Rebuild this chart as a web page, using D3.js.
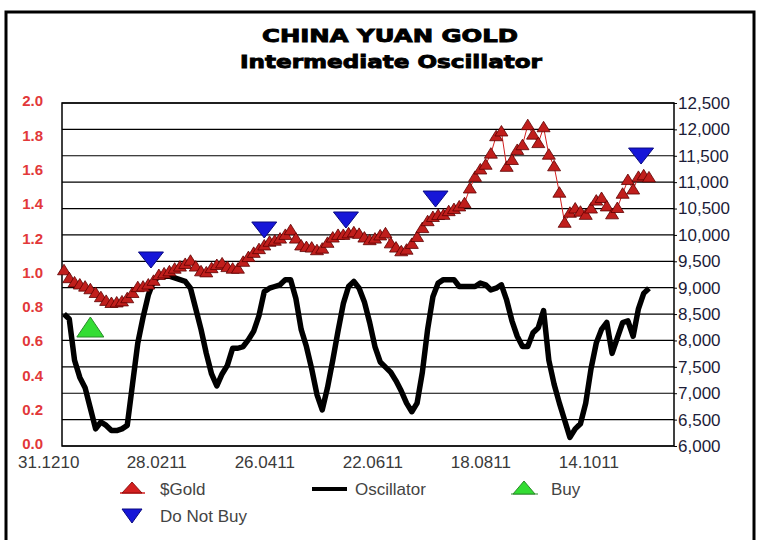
<!DOCTYPE html>
<html>
<head>
<meta charset="utf-8">
<script src="https://cdn.jsdelivr.net/npm/d3@7"></script>
<style>
  html, body { margin: 0; padding: 0; background: #fff; }
  svg { display: block; }
</style>
</head>
<body>
<div id="chart"></div>
<script>
// tick labels of the category axis (trading-day index -> label)
const xTickLabels = ["31.1210", "28.0211", "26.0411", "22.0611", "18.0811", "14.1011"];
const xTickDays = [-6, 35, 76, 117, 158, 199];

// $Gold in yuan, one value every 2 trading days
const gold = [
  9330, 9180, 9100, 9060, 9020, 8970, 8900, 8820, 8750, 8710,
  8720, 8740, 8800, 8900, 9010, 9020, 9060, 9130, 9240, 9270,
  9310, 9360, 9400, 9450, 9510, 9400, 9310, 9290, 9370, 9430,
  9460, 9390, 9360, 9360, 9490, 9580, 9660, 9730, 9800, 9870,
  9890, 9930, 10000, 10090, 9930, 9800, 9770, 9760, 9710, 9740,
  9850, 9950, 10000, 10000, 10030, 10050, 10020, 9950, 9900, 9930,
  9990, 10030, 9840, 9760, 9690, 9720, 9830, 9960, 10130, 10260,
  10340, 10377, 10380, 10450, 10490, 10540, 10600, 10880, 11100, 11240,
  11330, 11540, 11870, 11960, 11290, 11420, 11610, 11700, 12080, 11900,
  11740, 12040, 11520, 11300, 10800, 10230, 10420, 10500, 10440, 10380,
  10500, 10650, 10700, 10540, 10390, 10510, 10780, 11040, 10860, 11100,
  11130, 11090
];

// intermediate oscillator, same days
const oscillator = [
  0.77, 0.74, 0.50, 0.40, 0.34, 0.22, 0.10, 0.14, 0.12, 0.09,
  0.09, 0.10, 0.12, 0.36, 0.60, 0.75, 0.88, 0.96, 0.99, 0.99,
  0.99, 0.98, 0.97, 0.96, 0.92, 0.80, 0.68, 0.54, 0.42, 0.35,
  0.42, 0.47, 0.57, 0.57, 0.58, 0.62, 0.67, 0.76, 0.90, 0.92,
  0.93, 0.94, 0.97, 0.97, 0.86, 0.68, 0.58, 0.45, 0.30, 0.21,
  0.34, 0.50, 0.67, 0.83, 0.93, 0.96, 0.92, 0.84, 0.72, 0.58,
  0.49, 0.46, 0.43, 0.38, 0.32, 0.25, 0.20, 0.25, 0.43, 0.68,
  0.87, 0.95, 0.97, 0.97, 0.97, 0.93, 0.93, 0.93, 0.93, 0.95,
  0.94, 0.91, 0.92, 0.94, 0.85, 0.73, 0.64, 0.58, 0.58, 0.66,
  0.69, 0.79, 0.50, 0.36, 0.25, 0.15, 0.05, 0.10, 0.13, 0.25,
  0.45, 0.60, 0.68, 0.72, 0.54, 0.63, 0.72, 0.73, 0.64, 0.80,
  0.89, 0.92
];

// signals (trading-day index, yuan level)
const buyDays = [10];
const buyValues = [8255];
const noBuyDays = [33, 76, 107, 141, 219];
const noBuyValues = [9525, 10093, 10283, 10680, 11495];

const goldTicks = d3.range(6000, 12501, 500);
const oscTicks = d3.range(0, 11).map(d => d / 5);

const width = 759, height = 540;
const plot = { left: 62, right: 674, top: 103, bottom: 446 };

const svg = d3.select("#chart").append("svg")
  .attr("width", width)
  .attr("height", height);

svg.append("rect")
  .attr("width", width).attr("height", height)
  .attr("fill", "#fff");

// outer frame
svg.append("path")
  .attr("d", `M6,${height + 5}V12H754V${height + 5}`)
  .attr("fill", "none")
  .attr("stroke", "#000")
  .attr("stroke-width", 3);

const x = d3.scaleLinear().domain([-0.76, 231.5]).range([plot.left, plot.right]);
const yGold = d3.scaleLinear().domain([6000, 12500]).range([plot.bottom, plot.top]);
const yOsc = d3.scaleLinear().domain([0, 2]).range([plot.bottom, plot.top]);

const days = gold.map((d, i) => i * 2);

// titles (heavy face)
const titleStyle = t => t
  .attr("text-anchor", "middle")
  .attr("lengthAdjust", "spacingAndGlyphs")
  .attr("fill", "#000")
  .attr("stroke", "#000")
  .attr("stroke-width", 0.9)
  .style("font-family", "DejaVu Sans")
  .style("font-weight", "bold")
  .style("font-size", "18px");

svg.append("text")
  .attr("x", 390).attr("y", 42)
  .attr("textLength", 256)
  .call(titleStyle)
  .text("CHINA YUAN GOLD");

svg.append("text")
  .attr("x", 391).attr("y", 68)
  .attr("textLength", 302)
  .call(titleStyle)
  .text("Intermediate Oscillator");

// grid from the right axis
svg.append("g")
  .attr("class", "grid")
  .selectAll("line")
  .data(goldTicks)
  .enter().append("line")
  .attr("x1", plot.left).attr("x2", plot.right)
  .attr("y1", d => yGold(d)).attr("y2", d => yGold(d))
  .attr("stroke", "#000").attr("stroke-width", 1.2);

svg.append("rect")
  .attr("x", plot.left).attr("y", plot.top)
  .attr("width", plot.right - plot.left).attr("height", plot.bottom - plot.top)
  .attr("fill", "none").attr("stroke", "#000").attr("stroke-width", 1.5);

// left axis (oscillator)
svg.append("g")
  .attr("transform", `translate(${plot.left},-2)`)
  .call(d3.axisLeft(yOsc).tickValues(oscTicks).tickFormat(d3.format(".1f")).tickSize(0).tickPadding(19))
  .call(g => g.select(".domain").remove())
  .call(g => g.selectAll("text")
    .attr("fill", "#e2383a")
    .style("font-family", "Liberation Sans, Arial, sans-serif")
    .style("font-weight", "bold")
    .style("font-size", "15px"));

// right axis (gold)
svg.append("g")
  .attr("transform", `translate(${plot.right},0)`)
  .call(d3.axisRight(yGold).tickValues(goldTicks).tickFormat(d3.format(",")).tickSize(3).tickPadding(1))
  .call(g => g.select(".domain").remove())
  .call(g => g.selectAll("line").attr("stroke", "#000"))
  .call(g => g.selectAll("text")
    .attr("fill", "#1c1c38")
    .style("font-family", "Liberation Sans, Arial, sans-serif")
    .style("font-size", "17px"));

// bottom axis
svg.append("g")
  .attr("transform", `translate(0,${plot.bottom})`)
  .call(d3.axisBottom(x).tickValues(xTickDays).tickFormat((d, i) => xTickLabels[i]).tickSize(0).tickPadding(10))
  .call(g => g.select(".domain").remove())
  .call(g => g.selectAll("text")
    .attr("fill", "#3a3a3a")
    .style("font-family", "Liberation Sans, Arial, sans-serif")
    .style("font-size", "17px"));

// oscillator line
svg.append("path")
  .datum(oscillator)
  .attr("fill", "none")
  .attr("stroke", "#000")
  .attr("stroke-width", 5.5)
  .attr("stroke-linejoin", "round")
  .attr("d", d3.line().x((d, i) => x(days[i])).y(d => yOsc(d)));

// gold thin line + markers
svg.append("path")
  .datum(gold)
  .attr("fill", "none")
  .attr("stroke", "#d42020")
  .attr("stroke-width", 1)
  .attr("d", d3.line().x((d, i) => x(days[i])).y(d => yGold(d)));

const upSmall = "M0,-6L6.5,4.5L-6.5,4.5Z";
svg.append("g")
  .selectAll("path")
  .data(gold)
  .enter().append("path")
  .attr("transform", (d, i) => `translate(${x(days[i])},${yGold(d)})`)
  .attr("d", upSmall)
  .attr("fill", "#c01e1c")
  .attr("stroke", "#5e0000")
  .attr("stroke-width", 0.8);

// signals
const upBig = "M0,-10L13.5,10L-13.5,10Z";
const downBig = "M-12.5,-8L12.5,-8L0,8Z";

svg.append("g")
  .selectAll("path")
  .data(buyValues)
  .enter().append("path")
  .attr("transform", (d, i) => `translate(${x(buyDays[i])},${yGold(d)})`)
  .attr("d", upBig)
  .attr("fill", "#33dd33")
  .attr("stroke", "#2b8a2b")
  .attr("stroke-width", 1);

svg.append("g")
  .selectAll("path")
  .data(noBuyValues)
  .enter().append("path")
  .attr("transform", (d, i) => `translate(${x(noBuyDays[i])},${yGold(d)})`)
  .attr("d", downBig)
  .attr("fill", "#1616d8")
  .attr("stroke", "#0a0a80")
  .attr("stroke-width", 1);

// legend
const legendFont = g => g
  .attr("fill", "#444")
  .style("font-family", "Liberation Sans, Arial, sans-serif")
  .style("font-size", "17px");

const legend = svg.append("g").attr("class", "legend");

legend.append("line").attr("x1", 120).attr("x2", 145).attr("y1", 493).attr("y2", 493)
  .attr("stroke", "#d42020").attr("stroke-width", 1.5);
legend.append("path").attr("transform", "translate(132,488)").attr("d", "M0,-6L10,5L-10,5Z")
  .attr("fill", "#d42020").attr("stroke", "#7a0000").attr("stroke-width", 0.8);
legend.append("text").attr("x", 160).attr("y", 495).text("$Gold").call(legendFont);

legend.append("line").attr("x1", 312).attr("x2", 347).attr("y1", 489).attr("y2", 489)
  .attr("stroke", "#000").attr("stroke-width", 4);
legend.append("text").attr("x", 355).attr("y", 495).text("Oscillator").call(legendFont);

legend.append("line").attr("x1", 511).attr("x2", 538).attr("y1", 494).attr("y2", 494)
  .attr("stroke", "#2b8a2b").attr("stroke-width", 1);
legend.append("path").attr("transform", "translate(524,488)").attr("d", "M0,-7L11,6L-11,6Z")
  .attr("fill", "#33dd33").attr("stroke", "#2b8a2b").attr("stroke-width", 1);
legend.append("text").attr("x", 551).attr("y", 495).text("Buy").call(legendFont);

legend.append("path").attr("transform", "translate(132,516)").attr("d", "M-10,-7L10,-7L0,7Z")
  .attr("fill", "#1616d8").attr("stroke", "#0a0a80").attr("stroke-width", 1);
legend.append("text").attr("x", 160).attr("y", 522).text("Do Not Buy").call(legendFont);
</script>
</body>
</html>
